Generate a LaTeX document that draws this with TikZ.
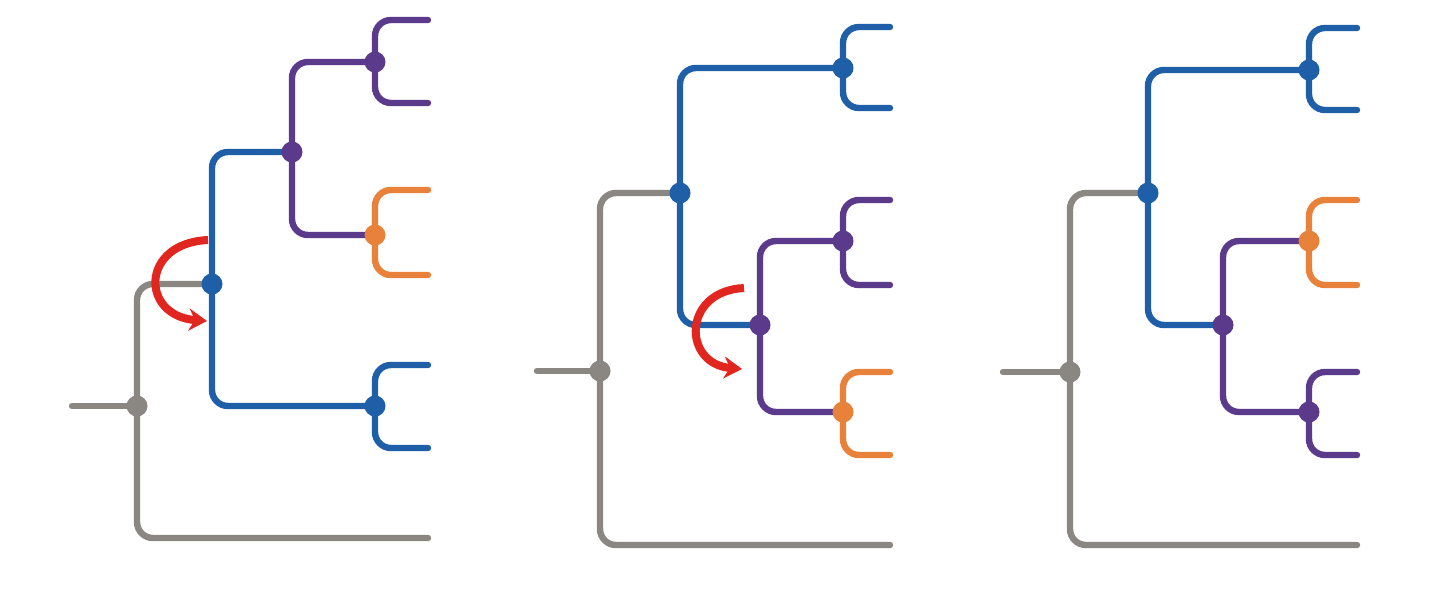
\documentclass[tikz,border=0pt]{standalone}
\usetikzlibrary{arrows.meta,backgrounds}
\definecolor{cblue}{HTML}{1F5FA8}
\definecolor{cpurp}{HTML}{5B3A8C}
\definecolor{corng}{HTML}{E8823A}
\definecolor{cgray}{HTML}{8A8682}
\definecolor{cred}{HTML}{E0261E}
\tikzset{
  ln/.style={line width=3.2pt, rounded corners=8pt, line cap=round, line join=round},
  lb/.style={ln, draw=cblue},
  lp/.style={ln, draw=cpurp},
  lo/.style={ln, draw=corng},
  lg/.style={ln, draw=cgray},
  dot/.style={circle, inner sep=0pt, minimum size=10.5pt},
  db/.style={dot, fill=cblue},
  dp/.style={dot, fill=cpurp},
  do/.style={dot, fill=corng},
  dg/.style={dot, fill=cgray},
  swap/.style={draw=cred, line width=4pt, -{Stealth[length=9pt,width=11pt]}}
}
\begin{document}
\begin{tikzpicture}[x=0.5pt,y=-0.5pt]
\useasboundingbox (0,0) rectangle (1440,590);
% ---------- tree 1 ----------
\coordinate (r1) at (72,406);
\coordinate (e1) at (428,538);
\coordinate (pAt) at (428,20);  \coordinate (pAb) at (428,103);
\coordinate (oAt) at (428,190); \coordinate (oAb) at (428,275);
\coordinate (bAt) at (428,365); \coordinate (bAb) at (428,448);
\node[dg] (g1) at (137,406) {};
\node[db] (b1) at (212,284) {};
\node[dp] (p1) at (292,152) {};
\node[dp] (pA) at (375,62) {};
\node[do] (oA) at (375,235) {};
\node[db] (bA) at (375,406) {};
\begin{pgfonlayer}{background}
\draw[lg] (r1) -- (g1.center);
\draw[lg] (b1.center) -| (g1.center) |- (e1);
\draw[lb] (p1.center) -| (b1.center) |- (bA.center);
\draw[lp] (pA.center) -| (p1.center) |- (oA.center);
\draw[lp] (pAt) -| (pA.center) |- (pAb);
\draw[lo] (oAt) -| (oA.center) |- (oAb);
\draw[lb] (bAt) -| (bA.center) |- (bAb);
\end{pgfonlayer}
\coordinate (s1) at (208,240);
\coordinate (t1) at (207,321);
\draw[swap] (s1) .. controls (140,243) and (140,316) .. (t1);
% ---------- tree 2 ----------
\coordinate (r2) at (537,371);
\coordinate (e2) at (890,545);
\coordinate (bBt) at (890,27);  \coordinate (bBb) at (890,108);
\coordinate (pBt) at (890,200); \coordinate (pBb) at (890,285);
\coordinate (oBt) at (890,372); \coordinate (oBb) at (890,455);
\node[dg] (g2) at (600,371) {};
\node[db] (b2) at (680,193) {};
\node[dp] (p2) at (760,325) {};
\node[db] (bB) at (843,68) {};
\node[dp] (pB) at (843,241) {};
\node[do] (oB) at (843,412) {};
\begin{pgfonlayer}{background}
\draw[lg] (r2) -- (g2.center);
\draw[lg] (b2.center) -| (g2.center) |- (e2);
\draw[lb] (bB.center) -| (b2.center) |- (p2.center);
\draw[lp] (pB.center) -| (p2.center) |- (oB.center);
\draw[lb] (bBt) -| (bB.center) |- (bBb);
\draw[lp] (pBt) -| (pB.center) |- (pBb);
\draw[lo] (oBt) -| (oB.center) |- (oBb);
\end{pgfonlayer}
\coordinate (s2) at (744,288);
\coordinate (t2) at (742,369);
\draw[swap] (s2) .. controls (682,291) and (682,364) .. (t2);
% ---------- tree 3 ----------
\coordinate (r3) at (1003,372);
\coordinate (e3) at (1357,545);
\coordinate (bCt) at (1357,28);  \coordinate (bCb) at (1357,110);
\coordinate (oCt) at (1357,200); \coordinate (oCb) at (1357,285);
\coordinate (pCt) at (1357,372); \coordinate (pCb) at (1357,455);
\node[dg] (g3) at (1070,372) {};
\node[db] (b3) at (1148,193) {};
\node[dp] (p3) at (1223,325) {};
\node[db] (bC) at (1309,70) {};
\node[do] (oC) at (1309,241) {};
\node[dp] (pC) at (1309,412) {};
\begin{pgfonlayer}{background}
\draw[lg] (r3) -- (g3.center);
\draw[lg] (b3.center) -| (g3.center) |- (e3);
\draw[lb] (bC.center) -| (b3.center) |- (p3.center);
\draw[lp] (oC.center) -| (p3.center) |- (pC.center);
\draw[lb] (bCt) -| (bC.center) |- (bCb);
\draw[lo] (oCt) -| (oC.center) |- (oCb);
\draw[lp] (pCt) -| (pC.center) |- (pCb);
\end{pgfonlayer}
\end{tikzpicture}
\end{document}
